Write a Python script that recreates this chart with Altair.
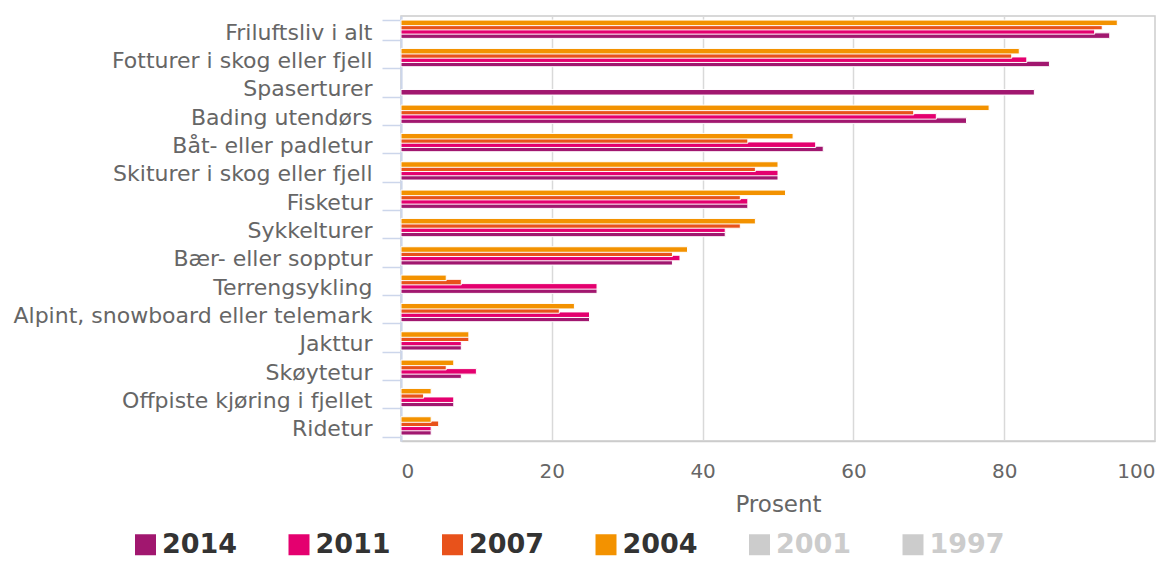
import altair as alt
import pandas as pd

categories = [
    "Friluftsliv i alt",
    "Fotturer i skog eller fjell",
    "Spaserturer",
    "Bading utendørs",
    "Båt- eller padletur",
    "Skiturer i skog eller fjell",
    "Fisketur",
    "Sykkelturer",
    "Bær- eller sopptur",
    "Terrengsykling",
    "Alpint, snowboard eller telemark",
    "Jakttur",
    "Skøytetur",
    "Offpiste kjøring i fjellet",
    "Ridetur",
]
v2014 = [94, 86, 84, 75, 56, 50, 46, 43, 36, 26, 25, 8, 8, 7, 4]
v2011 = [92, 83, None, 71, 55, 50, 46, 43, 37, 26, 25, 8, 10, 7, 4]
v2007 = [93, 81, None, 68, 46, 47, 45, 45, 36, 8, 21, 9, 6, 3, 5]
v2004 = [95, 82, None, 78, 52, 50, 51, 47, 38, 6, 23, 9, 7, 4, 4]

legend_years = ["2014", "2011", "2007", "2004", "2001", "1997"]
colors = ["#a1176f", "#e4006f", "#e8521b", "#f39200", "#cccccc", "#cccccc"]
offset_order = ["2004", "2007", "2011", "2014"]
x_ticks = [0, 20, 40, 60, 80, 100]

rows = []
for year, vals in [("2014", v2014), ("2011", v2011), ("2007", v2007), ("2004", v2004)]:
    for c, v in zip(categories, vals):
        if v is not None:
            rows.append({"Aktivitet": c, "År": year, "Prosent": v})
df = pd.DataFrame(rows)

FONT = "DejaVu Sans"

bars = alt.Chart(df).mark_bar(
    height=alt.RelativeBandSize(1.3), stroke="white", strokeWidth=1
).encode(
    y=alt.Y(
        "Aktivitet:N",
        sort=categories,
        scale=alt.Scale(paddingInner=0.3, paddingOuter=0.15),
        axis=alt.Axis(
            title=None,
            tickBand="extent",
            tickSize=19,
            tickColor="#ccd6eb",
            tickWidth=1.5,
            domainColor="#ccd6eb",
            domainWidth=2,
            labelPadding=10,
            labelFont=FONT,
            labelFontSize=22,
            labelColor="#666666",
            labelOffset=2,
            labelLimit=420,
            grid=False,
        ),
    ),
    yOffset=alt.YOffset(
        "År:N",
        scale=alt.Scale(domain=offset_order, paddingInner=0, paddingOuter=0.33, align=1),
    ),
    x=alt.X(
        "Prosent:Q",
        scale=alt.Scale(domain=[0, 100], nice=False),
        axis=alt.Axis(
            values=x_ticks,
            grid=True,
            gridColor="#d9d9d9",
            gridWidth=1.5,
            domainColor="#cccccc",
            domainWidth=1.5,
            ticks=False,
            tickSize=0,
            labelPadding=20,
            labelFont=FONT,
            labelFontSize=20,
            labelColor="#666666",
            title="Prosent",
            titleFont=FONT,
            titleFontSize=23,
            titleFontWeight="normal",
            titleColor="#666666",
            titleBaseline="alphabetic",
            titleY=70,
        ),
    ),
    color=alt.Color(
        "År:N",
        scale=alt.Scale(domain=legend_years, range=colors),
        legend=alt.Legend(
            orient="none",
            legendX=-269,
            legendY=515,
            direction="horizontal",
            title=None,
            symbolType="square",
            symbolSize=441,
            symbolStrokeWidth=0,
            symbolOpacity=1,
            labelFont=FONT,
            labelFontSize=27,
            labelFontWeight="bold",
            labelColor=alt.ExprRef("datum.label == '2001' || datum.label == '1997' ? '#cccccc' : '#333333'"),
            labelOffset=3,
            columnPadding=47.5,
            padding=0,
        ),
    ),
)

chart = bars.properties(
    width=754,
    height=425,
    autosize=alt.AutoSizeParams(type="none"),
    padding={"left": 393, "top": 8, "right": 1, "bottom": 120},
).configure_view(stroke="#cccccc", strokeWidth=1.5)

chart.save("out.html", embed_options={"renderer": "svg", "actions": False})
